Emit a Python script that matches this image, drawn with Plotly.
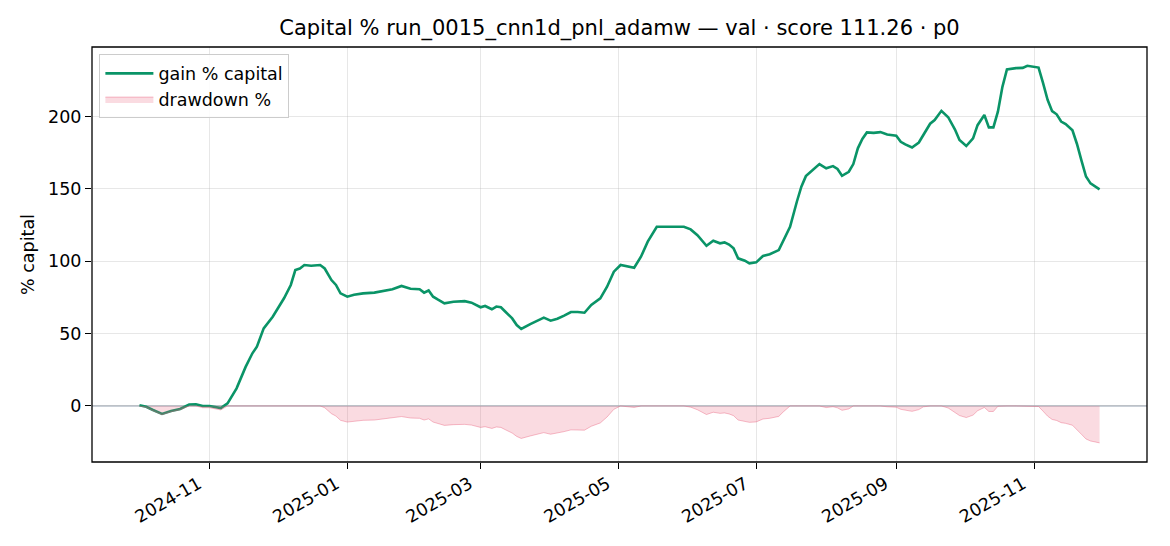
import plotly.graph_objects as go

# ---- data ----
dates = [
    "2024-10-01", "2024-10-04", "2024-10-07", "2024-10-11", "2024-10-15", "2024-10-19",
    "2024-10-23", "2024-10-26", "2024-10-29",
    "2024-11-01", "2024-11-06", "2024-11-09", "2024-11-13", "2024-11-17", "2024-11-20",
    "2024-11-22", "2024-11-25", "2024-11-29",
    "2024-12-04", "2024-12-07", "2024-12-09", "2024-12-11", "2024-12-13", "2024-12-16",
    "2024-12-20", "2024-12-22", "2024-12-25", "2024-12-27", "2024-12-29",
    "2025-01-01", "2025-01-04", "2025-01-08", "2025-01-13", "2025-01-17", "2025-01-21",
    "2025-01-25", "2025-01-29",
    "2025-02-02", "2025-02-04", "2025-02-06", "2025-02-08", "2025-02-10", "2025-02-13",
    "2025-02-17", "2025-02-22", "2025-02-25",
    "2025-03-01", "2025-03-03", "2025-03-06", "2025-03-08", "2025-03-10", "2025-03-12",
    "2025-03-15", "2025-03-17", "2025-03-19", "2025-03-23", "2025-03-26", "2025-03-29",
    "2025-04-01", "2025-04-04", "2025-04-07", "2025-04-10", "2025-04-13", "2025-04-16",
    "2025-04-19", "2025-04-23", "2025-04-26", "2025-04-29",
    "2025-05-02", "2025-05-05", "2025-05-08", "2025-05-11", "2025-05-14", "2025-05-18",
    "2025-05-21", "2025-05-25", "2025-05-30",
    "2025-06-02", "2025-06-05", "2025-06-09", "2025-06-12", "2025-06-15", "2025-06-17",
    "2025-06-19", "2025-06-21", "2025-06-23", "2025-06-26", "2025-06-28",
    "2025-07-01", "2025-07-04", "2025-07-07", "2025-07-11", "2025-07-13", "2025-07-16",
    "2025-07-19", "2025-07-21", "2025-07-23", "2025-07-26", "2025-07-29",
    "2025-08-01", "2025-08-04", "2025-08-06", "2025-08-08", "2025-08-11", "2025-08-13",
    "2025-08-15", "2025-08-17", "2025-08-19", "2025-08-22", "2025-08-25", "2025-08-28",
    "2025-09-01", "2025-09-03", "2025-09-05", "2025-09-08", "2025-09-11", "2025-09-13",
    "2025-09-16", "2025-09-18", "2025-09-21", "2025-09-24", "2025-09-27", "2025-09-29",
    "2025-10-02", "2025-10-05", "2025-10-07", "2025-10-10", "2025-10-12", "2025-10-14",
    "2025-10-16", "2025-10-18", "2025-10-20", "2025-10-24", "2025-10-27", "2025-10-29",
    "2025-11-01", "2025-11-03", "2025-11-05", "2025-11-07", "2025-11-09", "2025-11-11",
    "2025-11-13", "2025-11-15", "2025-11-18", "2025-11-20", "2025-11-22", "2025-11-24",
    "2025-11-26", "2025-11-28", "2025-11-30",
]

gain_pct = [
    0.5, -0.5, -2.8, -5.5, -3.5, -2.1,
    1.0, 1.2, 0.0,
    0.0, -1.5, 1.8, 12.2, 27.0, 36.4,
    41.0, 53.6, 61.7,
    74.4, 83.6, 93.9, 95.0, 97.4, 96.9,
    97.4, 95.0, 87.0, 83.6, 77.8,
    75.5, 76.9, 77.8, 78.3, 79.6, 80.6,
    82.9, 81.0,
    80.6, 78.3, 79.8, 75.5, 73.6, 70.9,
    72.0, 72.4, 71.4,
    68.2, 69.1, 66.8, 68.7, 68.2, 65.1,
    60.5, 55.9, 53.2, 56.6, 58.9, 61.0,
    58.9, 60.3, 62.4, 64.9, 64.9, 64.4,
    69.8, 74.4, 82.4, 92.8,
    97.4, 96.7, 95.5, 103.1, 113.5, 123.8,
    123.8, 123.3, 123.8,
    122.0, 118.0, 110.7, 114.2, 112.4, 113.0,
    111.5, 108.9, 102.0, 100.4, 98.5,
    99.2, 103.6, 104.8, 107.7, 114.6, 123.8,
    141.1, 151.5, 158.8, 163.0, 167.1,
    164.2, 165.7, 163.7, 159.0, 161.8, 167.1,
    178.0, 184.5, 189.0, 188.7, 189.2, 187.6,
    186.7, 182.5, 180.7, 178.6, 182.0, 187.5,
    195.0, 197.5, 203.9, 199.5, 191.0, 183.7,
    179.6, 184.9, 194.0, 201.0, 192.5, 192.5,
    203.3, 220.5, 232.5, 233.4, 233.6, 235.0,
    234.0, 233.8, 223.0, 211.5, 203.7, 201.5,
    196.5, 194.8, 190.5, 181.0, 169.5, 158.5,
    153.8, 152.0, 149.7,
]

drawdown_pct = [
    0.0, -1.0, -3.3, -6.0, -4.0, -2.6,
    0.0, 0.0, -1.2,
    -1.2, -2.7, 0.0, 0.0, 0.0, 0.0,
    0.0, 0.0, 0.0,
    0.0, 0.0, 0.0, 0.0, 0.0, -0.25,
    0.0, -1.2, -5.3, -7.0, -9.9,
    -11.1, -10.4, -9.9, -9.7, -9.0, -8.5,
    -7.3, -8.3,
    -8.5, -9.7, -8.9, -11.1, -12.1, -13.4,
    -12.9, -12.7, -13.2,
    -14.8, -14.3, -15.5, -14.5, -14.8, -16.4,
    -18.7, -21.0, -22.4, -20.7, -19.5, -18.4,
    -19.5, -18.8, -17.7, -16.5, -16.5, -16.7,
    -14.0, -11.7, -7.6, -2.3,
    0.0, -0.35, -1.0, 0.0, 0.0, 0.0,
    0.0, -0.2, 0.0,
    -0.8, -2.6, -5.9, -4.3, -5.1, -4.8,
    -5.5, -6.7, -9.7, -10.5, -11.3,
    -11.0, -9.0, -8.5, -7.2, -4.1, 0.0,
    0.0, 0.0, 0.0, 0.0, 0.0,
    -1.1, -0.5, -1.3, -3.0, -2.0, 0.0,
    0.0, 0.0, 0.0, -0.1, 0.0, -0.55,
    -0.86, -2.3, -2.9, -3.7, -2.5, -0.6,
    0.0, 0.0, 0.0, -1.4, -4.2, -6.6,
    -8.0, -6.3, -3.3, -1.0, -3.8, -3.8,
    -0.2, 0.0, 0.0, 0.0, 0.0, 0.0,
    -0.3, -0.36, -3.6, -7.0, -9.3, -10.0,
    -11.5, -12.0, -13.3, -16.1, -19.6, -22.8,
    -24.2, -24.8, -25.5,
]

x_tick_vals = ["2024-11-01", "2025-01-01", "2025-03-01", "2025-05-01",
               "2025-07-01", "2025-09-01", "2025-11-01"]
x_tick_text = ["2024-11", "2025-01", "2025-03", "2025-05",
               "2025-07", "2025-09", "2025-11"]
y_tick_vals = [0, 50, 100, 150, 200]

title_text = "Capital % run_0015_cnn1d_pnl_adamw — val · score 111.26 · p0"

FONT = "DejaVu Sans, Liberation Sans, sans-serif"
GREEN = "#0a9467"
FS = 17.5

# page body has an 8px margin, so the figure is sized/offset to compensate
W, H = 1162, 538

fig = go.Figure()

fig.add_trace(go.Scatter(
    x=dates, y=gain_pct, mode="lines", name="gain % capital",
    line=dict(color=GREEN, width=2.6),
))
fig.add_trace(go.Scatter(
    x=dates, y=drawdown_pct, mode="lines", name="drawdown %",
    fill="tozeroy", fillcolor="rgba(232,90,120,0.22)",
    line=dict(color="rgba(232,90,120,0.4)", width=1),
))

fig.add_hline(y=0, line=dict(color="#8c9aab", width=1), layer="below")

# axes frame (all four spines)
fig.add_shape(type="rect", xref="paper", yref="paper", x0=0, y0=0, x1=1, y1=1,
              line=dict(color="black", width=1.3), fillcolor="rgba(0,0,0,0)",
              layer="above")

fig.update_layout(
    width=W, height=H,
    margin=dict(l=84, r=23, t=39, b=84, autoexpand=False),
    paper_bgcolor="white", plot_bgcolor="white",
    font=dict(family=FONT, size=FS, color="black"),
    title=dict(text=title_text, x=(84 + (W - 84 - 23) / 2) / W, xanchor="center",
               y=1 - 20 / H, yanchor="middle", yref="container",
               font=dict(family=FONT, size=21, color="black")),
    showlegend=True,
    legend=dict(x=0.007, y=0.982, xanchor="left", yanchor="top",
                bgcolor="rgba(255,255,255,0.85)", bordercolor="#cccccc",
                borderwidth=1, font=dict(family=FONT, size=FS),
                itemwidth=48, tracegroupgap=0),
    xaxis=dict(
        range=["2024-09-10", "2025-12-21"], type="date",
        tickvals=x_tick_vals, ticktext=x_tick_text, tickangle=-30,
        ticklabelshift=-11, ticklabelstandoff=-2,
        showgrid=True, gridcolor="rgba(176,176,176,0.3)", gridwidth=1,
        showline=False, automargin=False,
        ticks="outside", ticklen=6, tickcolor="black", tickwidth=1.2,
        zeroline=False, tickfont=dict(size=FS),
    ),
    yaxis=dict(
        range=[-38.7, 248],
        tickvals=y_tick_vals,
        showgrid=True, gridcolor="rgba(176,176,176,0.3)", gridwidth=1,
        showline=False, automargin=False,
        ticks="outside", ticklen=6, tickcolor="black", tickwidth=1.2,
        zeroline=False, tickfont=dict(size=FS),
        title=dict(text="% capital", standoff=8, font=dict(size=FS)),
    ),
)

fig.write_html("out.html")
